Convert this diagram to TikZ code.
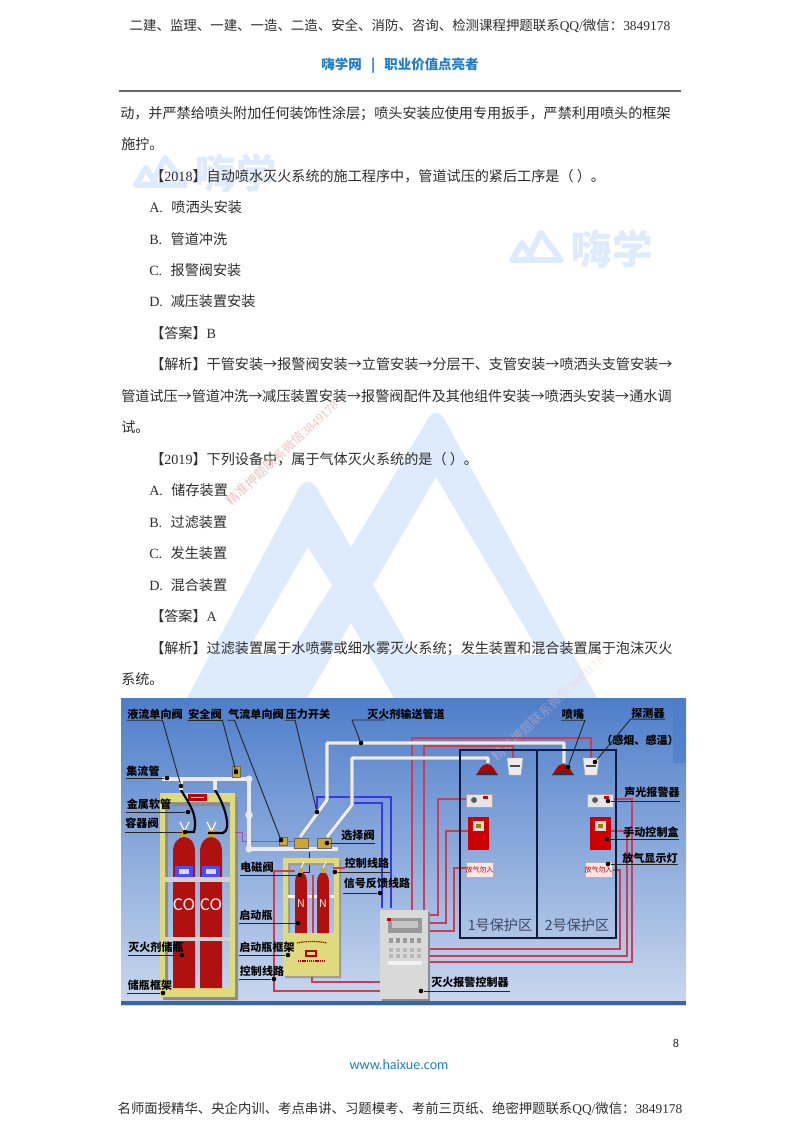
\documentclass[tikz,border=0pt]{standalone}
\usepackage{fontspec}
\setmainfont{Noto Sans CJK SC}
\newfontfamily\latf{Liberation Serif}
\newfontfamily\sanf{Carlito}
\usetikzlibrary{calc}
\definecolor{inkgray}{RGB}{45,45,45}
\definecolor{logoblue}{RGB}{222,235,252}
\definecolor{headblue}{RGB}{30,125,200}
\definecolor{stampred}{RGB}{240,195,195}
\definecolor{wirered}{RGB}{205,60,80}
\definecolor{rackyellow}{RGB}{222,218,125}
\definecolor{pipeedge}{RGB}{120,130,150}
\definecolor{pipewhite}{RGB}{235,235,238}
\definecolor{bluewire}{RGB}{55,55,230}
\definecolor{valvegold}{RGB}{205,165,50}
\definecolor{zonenavy}{RGB}{15,25,60}
\definecolor{skytop}{RGB}{78,126,202}
\definecolor{skymid}{RGB}{122,158,222}
\definecolor{skybot}{RGB}{202,216,238}
\definecolor{bottlered}{RGB}{232,28,28}
\definecolor{bottleedge}{RGB}{175,16,16}
\tikzset{
  bodytxt/.style={anchor=base west,inner sep=0pt,text=inkgray,font=\fontsize{10.5}{12}\selectfont},
  headtxt/.style={inner sep=0pt,text=inkgray,font=\fontsize{10}{12}\selectfont},
  lab/.style={inner sep=0.5pt,text=black,font=\fontsize{8.2}{10}\selectfont\bfseries},
  leader/.style={draw=black!85,line width=0.7pt},
  leaddot/.style={circle,fill=black,inner sep=0pt,minimum size=3.4pt},
  wire/.style={draw=wirered,line width=0.9pt},
  bluew/.style={draw=bluewire,line width=0.9pt},
  pipe/.style={draw=pipeedge,double=pipewhite,double distance=2.4pt,line width=0.35pt,line join=round},
  smalllogo/.pic={
    \draw[logoblue,line width=4.4pt,line join=round,line cap=round]
      (-14,33) -- (0,6) -- (20,33) -- (-29,33) -- (-19,16) -- (-8,33);
  }
}
\newcommand{\lat}[1]{{\latf #1}}
\begin{document}
\begin{tikzpicture}[x=0.744pt,y=-0.744pt]
  \useasboundingbox (0,0) rectangle (800,1132);
  \fill[white] (0,0) rectangle (800,1132);

  % watermark
  \fill[logoblue,even odd rule]
    (186,700) -- (297,492) .. controls (303,478) and (313,478) .. (319,492) -- (351,547)
    -- (425,424) .. controls (431,409) and (441,409) .. (447,424) -- (598,700) -- cycle
    (308,547) -- (332,585) -- (288,655) -- (245,655) -- cycle
    (436,477) -- (373,585) -- (414,655) -- (541,655) -- cycle
    (351,623) -- (306,700) -- (395,700) -- cycle;
  \pic at (165,152) {smalllogo};
  \pic at (541,227) {smalllogo};
  \node[inner sep=0pt,text=logoblue,font=\fontsize{30}{30}\selectfont\bfseries] (markleft) at (236,173) {嗨学};
  \node[inner sep=0pt,text=logoblue,font=\fontsize{30}{30}\selectfont\bfseries] (markright) at (612,249) {嗨学};

  % header
  \node[headtxt] (headtop) at (400,26) {二建、监理、一建、一造、二造、安全、消防、咨询、检测课程押题联系\lat{QQ/}微信：\lat{3849178}};
  \node[inner sep=0pt,text=headblue,font=\fontsize{10}{12}\selectfont\bfseries] (headsite) at (400,66) {嗨学网\ \ \ |\ \ \ 职业价值点亮者};
  \draw[black!60,line width=1pt] (119,91) -- (681,91);

  % body
  \node[bodytxt] (l1) at (120,118) {动，并严禁给喷头附加任何装饰性涂层；喷头安装应使用专用扳手，严禁利用喷头的框架};
  \node[bodytxt] (l2) at (121,149) {施拧。};
  \node[bodytxt] (l3) at (150,181) {【\lat{2018}】自动喷水灭火系统的施工程序中，管道试压的紧后工序是（ ）。};
  \node[bodytxt] (l4) at (149,212) {\lat{A.}\hspace{0.6em}喷洒头安装};
  \node[bodytxt] (l5) at (149,244) {\lat{B.}\hspace{0.6em}管道冲洗};
  \node[bodytxt] (l6) at (149,275) {\lat{C.}\hspace{0.6em}报警阀安装};
  \node[bodytxt] (l7) at (149,306) {\lat{D.}\hspace{0.55em}减压装置安装};
  \node[bodytxt] (l8) at (150,338) {【答案】\lat{B}};
  \node[bodytxt] (l9) at (150,369) {【解析】干管安装→报警阀安装→立管安装→分层干、支管安装→喷洒头支管安装→};
  \node[bodytxt] (l10) at (121,401) {管道试压→管道冲洗→减压装置安装→报警阀配件及其他组件安装→喷洒头安装→通水调};
  \node[bodytxt] (l11) at (121,432) {试。};
  \node[bodytxt] (l12) at (150,464) {【\lat{2019}】下列设备中，属于气体灭火系统的是（ ）。};
  \node[bodytxt] (l13) at (149,495) {\lat{A.}\hspace{0.6em}储存装置};
  \node[bodytxt] (l14) at (149,527) {\lat{B.}\hspace{0.6em}过滤装置};
  \node[bodytxt] (l15) at (149,558) {\lat{C.}\hspace{0.6em}发生装置};
  \node[bodytxt] (l16) at (149,590) {\lat{D.}\hspace{0.55em}混合装置};
  \node[bodytxt] (l17) at (150,621) {【答案】\lat{A}};
  \node[bodytxt] (l18) at (150,653) {【解析】过滤装置属于水喷雾或细水雾灭火系统；发生装置和混合装置属于泡沫灭火};
  \node[bodytxt] (l19) at (121,684) {系统。};
  \node[rotate=43,inner sep=0pt,text=stampred,font=\fontsize{9.5}{10}\selectfont] (stampone) at (282,453) {精准押题联系微信\lat{3849178}};

  % picture background
  \shade[top color=skytop,middle color=skymid,bottom color=skybot] (121,698) rectangle (686,1005);
  \fill[skytop!80!black] (121,1001) rectangle (686,1005);
  \fill[skytop,opacity=0.7] (673,698) rectangle (686,763);
  \node[rotate=43,inner sep=0pt,text=stampred,opacity=0.4,font=\fontsize{9.5}{10}\selectfont] (stamptwo) at (548,708) {精准押题联系微信\lat{3849178}};

  % storage rack
  \fill[black!45,even odd rule] (163,797) rectangle (238,1000) (168,806) rectangle (233,991);
  \fill[rackyellow,even odd rule] (160,793) rectangle (235,997) (165,802) rectangle (230,988);
  \fill[red!75!black] (188,794) rectangle (207,801);
  \fill[white] (191,797) rectangle (204,798);

  % bottles
  \foreach \bx in {173,200}{
    \shade[left color=bottleedge,middle color=bottlered,right color=bottleedge]
      (\bx,988) -- (\bx,852) .. controls (\bx,842) and (\bx+6,837) .. (\bx+11,837)
      .. controls (\bx+17,837) and (\bx+22,842) .. (\bx+22,852) -- (\bx+22,988) -- cycle;
    \fill[valvegold] (\bx+7,829) rectangle (\bx+15,837);
    \draw[white,line width=0.9pt] (\bx+11,830) -- (\bx+7,822) (\bx+12,830) -- (\bx+16,822);
    \fill[blue!70!white] (\bx+2,866) rectangle (\bx+20,877);
    \fill[white!85!blue] (\bx+6,869) rectangle (\bx+16,874);
    \node[inner sep=0pt,text=white!90!red,font=\sanf\fontsize{13.5}{14}\selectfont] at (\bx+11,905) {CO};
  }
  \fill[white!82!black] (165,877) rectangle (230,882);
  \fill[white!82!black] (165,937) rectangle (230,941);

  % hoses
  \draw[black,line width=1.6pt] (181,790) .. controls (190,805) and (198,815) .. (194,832) -- (187,832);
  \draw[black,line width=1.6pt] (215,790) .. controls (225,805) and (232,830) .. (223,833) -- (208,833);

  % blue and purple control wires
  \draw[bluew] (317,812) -- (317,797) -- (391,797) -- (391,908);
  \draw[bluew] (352,803) -- (382,803) -- (382,908);
  \draw[draw=violet!70!white,line width=0.6pt] (235,832) -- (242,832) -- (242,841) -- (295,841);
  \draw[draw=violet!70!black,line width=0.6pt] (309,852) -- (309,872) -- (303,872);

  % starter rack
  \fill[black!40,even odd rule] (285,860) rectangle (341,978) (290,865) rectangle (336,933);
  \fill[rackyellow,even odd rule] (283,858) rectangle (339,976) (288,863) rectangle (334,933);
  \fill[white!80!rackyellow] (288,895) rectangle (334,898);
  \foreach \bx in {295,317}{
    \shade[left color=bottleedge,middle color=bottlered,right color=bottleedge]
      (\bx,933) -- (\bx,882) .. controls (\bx,876) and (\bx+3,872) .. (\bx+6,872)
      .. controls (\bx+9,872) and (\bx+12,876) .. (\bx+12,882) -- (\bx+12,933) -- cycle;
    \fill[valvegold] (\bx+4,867) rectangle (\bx+8,873);
    \draw[white,line width=0.6pt] (\bx+6,868) -- (\bx+9,862);
    \node[inner sep=0pt,text=white!90!red,font=\fontsize{8}{8}\selectfont] at (\bx+6,904) {N};
  }
  \draw[red!70!black,line width=0.9pt,dash pattern=on 1pt off 0.6pt] (297,943) .. controls (305,941) and (319,941) .. (327,943);
  \fill[red!75!black] (305,950) rectangle (317,957);
  \fill[rackyellow] (307,952) rectangle (315,955);
  \draw[red!70!black,line width=0.9pt,dash pattern=on 1pt off 0.6pt] (298,961) -- (325,961);

  % red control wires
  \draw[wire] (295,871) -- (274,871) -- (274,991) -- (380,991);
  \draw[wire] (312,977) -- (312,982) -- (380,982);
  \draw[wire] (313,875) -- (313,933);
  \draw[wire] (333,868) -- (345,868);
  \draw[wire] (412,910) -- (412,738) -- (591,738) -- (591,758);
  \draw[wire] (424,910) -- (424,746) -- (513,746) -- (513,758);
  \draw[wire] (428,915) -- (438,915) -- (438,799) -- (466,799);
  \draw[wire] (428,923) -- (446,923) -- (446,831) -- (468,831);
  \draw[wire] (428,931) -- (454,931) -- (454,868) -- (466,868);
  \draw[wire] (428,949) -- (620,949) -- (620,870) -- (612,870);
  \draw[wire] (428,956) -- (627,956) -- (627,831) -- (611,831);
  \draw[wire] (428,962) -- (632,962) -- (632,799) -- (612,799);

  % pipes
  \draw[pipe] (162,779) -- (249,779) -- (249,849) -- (338,849);
  \draw[pipe] (181,779) -- (181,790);
  \draw[pipe] (215,779) -- (215,790);
  \fill[pipewhite] (249,779) circle (2.6pt) (249,815) circle (2.8pt) (249,849) circle (2.6pt);
  \draw[pipe] (300,837) -- (327,800) -- (327,743) -- (564,743) -- (564,763);
  \draw[pipe] (327,837) -- (352,805) -- (352,758) -- (488,758) -- (488,763);
  \fill[valvegold,draw=black!60] (232,766) rectangle (240,777);
  \fill[black!70] (234,769) rectangle (238,774);
  \fill[valvegold,draw=black!60] (279,837) rectangle (287,845);
  \fill[valvegold,draw=black!60] (294,838) rectangle (308,848);
  \fill[valvegold,draw=black!60] (317,838) rectangle (331,848);

  % protection zones
  \draw[zonenavy,line width=1.3pt] (460,750) rectangle (616,938);
  \draw[zonenavy,line width=1.3pt] (537,750) -- (537,938);
  \node[inner sep=0pt,text=zonenavy!80!white,font=\fontsize{10.5}{12}\selectfont] (zone1) at (500,925) {1号保护区};
  \node[inner sep=0pt,text=zonenavy!80!white,font=\fontsize{10.5}{12}\selectfont] (zone2) at (577,925) {2号保护区};

  % devices in the zones
  \foreach \nx/\dx/\ax/\mx/\rx in {487/515/466/468/466,563/591/587/590/585}{
    \fill[red!70!black] (\nx-11,775) .. controls (\nx-8,772) and (\nx-6,764) .. (\nx,764)
      .. controls (\nx+6,764) and (\nx+8,772) .. (\nx+11,775) -- cycle;
    \fill[black!80] (\nx-11,775) .. controls (\nx-5,771) and (\nx+5,771) .. (\nx+11,775) -- cycle;
    \fill[white!92!black,draw=black!35,line width=0.3pt] (\dx-8,758) -- (\dx+8,758) -- (\dx+6,775) -- (\dx-6,775) -- cycle;
    \fill[black!70] (\dx-5,765) rectangle (\dx+5,767);
    \fill[white!90!black,draw=black!35,line width=0.3pt] (\ax,794) rectangle (\ax+26,807);
    \fill[black!65] (\ax+8,800) circle (2.2pt);
    \fill[red!80!black] (\ax+17,796) rectangle (\ax+22,799);
    \fill[red!80!black] (\mx,817) rectangle (\mx+21,850);
    \fill[white!85!black] (\mx+5,821) rectangle (\mx+16,831);
    \fill[olive] (\mx+8,824) rectangle (\mx+13,828);
    \fill[white!90!red,draw=black!30,line width=0.3pt] (\rx,862) rectangle (\rx+27,877);
    \node[inner sep=0pt,text=red!80!black,font=\fontsize{5.2}{6}\selectfont] at (\rx+13.5,870) {放气勿入};
  }

  % controller
  \fill[black!45] (382,912) rectangle (430,1001);
  \fill[white!85!black] (380,910) rectangle (428,999);
  \fill[black!40] (388,918) rectangle (422,933);
  \fill[white!78!black] (392,921) rectangle (418,928);
  \fill[red!75!black] (387,918) rectangle (391,921);
  \foreach \kx in {389,396,403,410,417}{
    \fill[black!40] (\kx,938) rectangle (\kx+4,943);
    \fill[black!28] (\kx,948) rectangle (\kx+4,952);
    \fill[black!28] (\kx,954) rectangle (\kx+4,958);
  }
  \fill[white!95!black] (388,961) rectangle (422,965);

  % labels
  \node[lab] (lbliquid) at (155,714) {液流单向阀};
  \node[lab] (lbsafe) at (205,714) {安全阀};
  \node[lab] (lbgas) at (256,714) {气流单向阀};
  \node[lab] (lbpress) at (308,714) {压力开关};
  \node[lab] (lbduct) at (406,714) {灭火剂输送管道};
  \node[lab] (lbcollect) at (143,771) {集流管};
  \node[lab] (lbhose) at (149,804) {金属软管};
  \node[lab] (lbvalve) at (142,823) {容器阀};
  \node[lab] (lbstore) at (156,947) {灭火剂储瓶};
  \node[lab] (lbframe) at (150,985) {储瓶框架};
  \node[lab] (lbsole) at (257,867) {电磁阀};
  \node[lab] (lbstart) at (256,915) {启动瓶};
  \node[lab] (lbstartf) at (267,947) {启动瓶框架};
  \node[lab] (lbctrla) at (262,971) {控制线路};
  \node[lab] (lbselect) at (358,835) {选择阀};
  \node[lab] (lbctrlb) at (367,863) {控制线路};
  \node[lab] (lbsignal) at (377,883) {信号反馈线路};
  \node[lab] (lbnozzle) at (573,714) {喷嘴};
  \node[lab] (lbdetect) at (648,713) {探测器};
  \node[lab] (lbkind) at (640,740) {（感烟、感温）};
  \node[lab] (lbalarm) at (652,792) {声光报警器};
  \node[lab] (lbmanual) at (651,832) {手动控制盒};
  \node[lab] (lbrelease) at (650,858) {放气显示灯};
  \node[lab] (lbpanel) at (470,982) {灭火报警控制器};

  % leader dots
  \node[leaddot] (dliquid) at (181,786) {};
  \node[leaddot] (dsafe) at (236,772) {};
  \node[leaddot] (dgas) at (281,840) {};
  \node[leaddot] (dpress) at (317,812) {};
  \node[leaddot] (dduct) at (361,743) {};
  \node[leaddot] (dcollect) at (167,778) {};
  \node[leaddot] (dhose) at (188,812) {};
  \node[leaddot] (dvalve) at (185,832) {};
  \node[leaddot] (dstore) at (182,955) {};
  \node[leaddot] (dframe) at (163,993) {};
  \node[leaddot] (dsole) at (300,875) {};
  \node[leaddot] (dstart) at (298,923) {};
  \node[leaddot] (dstartf) at (288,955) {};
  \node[leaddot] (dctrla) at (274,979) {};
  \node[leaddot] (dselect) at (327,843) {};
  \node[leaddot] (dctrlb) at (335,872) {};
  \node[leaddot] (dsignal) at (380,893) {};
  \node[leaddot] (dnozzle) at (568,767) {};
  \node[leaddot] (ddetect) at (595,762) {};
  \node[leaddot] (dalarm) at (608,801) {};
  \node[leaddot] (dmanual) at (607,839) {};
  \node[leaddot] (drelease) at (608,864) {};
  \node[leaddot] (dpanel) at (421,991) {};

  % leaders
  \draw[leader] (lbliquid.south west) -- ($(lbliquid.south west)+(36,0)$) -- (dliquid);
  \draw[leader] (lbsafe.south west) -- (lbsafe.south east) -- (dsafe);
  \draw[leader] (lbgas.south west) -- ($(lbgas.south west)+(7,0)$) -- (dgas);
  \draw[leader] (lbpress.south west) -- ($(lbpress.south west)+(10,0)$) -- (dpress);
  \draw[leader] (dduct) -- (352,720) -- (385,720);
  \draw[leader] (dcollect -| lbcollect.west) -- (dcollect);
  \draw[leader] (dhose -| lbhose.west) -- (dhose);
  \draw[leader] (dvalve -| lbvalve.west) -- (dvalve);
  \draw[leader] (dstore -| lbstore.west) -- (dstore);
  \draw[leader] (dframe -| lbframe.west) -- (dframe);
  \draw[leader] (dsole -| lbsole.west) -- (dsole);
  \draw[leader] (dstart -| lbstart.west) -- (dstart);
  \draw[leader] (dstartf -| lbstartf.west) -- (dstartf);
  \draw[leader] (dctrla -| lbctrla.west) -- (dctrla);
  \draw[leader] (dselect) -- (dselect -| lbselect.east);
  \draw[leader] (dctrlb) -- (dctrlb -| lbctrlb.east);
  \draw[leader] (dsignal -| lbsignal.west) -- (dsignal);
  \draw[leader] (lbnozzle.south west) -- (lbnozzle.south east) -- (dnozzle);
  \draw[leader] (lbdetect.south east) -- (lbdetect.south west) -- (ddetect);
  \draw[leader] (dalarm) -- (dalarm -| lbalarm.east);
  \draw[leader] (dmanual) -- (dmanual -| lbmanual.east);
  \draw[leader] (drelease) -- (drelease -| lbrelease.east);
  \draw[leader] (dpanel) -- (dpanel -| lbpanel.east);

  % footer
  \node[inner sep=0pt,text=inkgray,font=\sanf\fontsize{9}{10}\selectfont] (pageno) at (676,1043) {8};
  \node[inner sep=0pt,text=headblue,font=\sanf\fontsize{10.5}{12}\selectfont] (footsite) at (399,1065) {www.haixue.com};
  \node[inner sep=0pt,text=inkgray,font=\fontsize{9.95}{12}\selectfont] (headbot) at (400,1109) {名师面授精华、央企内训、考点串讲、习题模考、考前三页纸、绝密押题联系\lat{QQ/}微信：\lat{3849178}};
\end{tikzpicture}
\end{document}
